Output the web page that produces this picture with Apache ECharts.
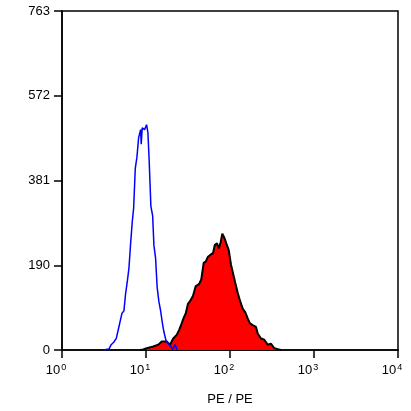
<!DOCTYPE html>
<html>
<head>
<meta charset="utf-8">
<script src="https://cdn.jsdelivr.net/npm/echarts@6/dist/echarts.min.js"></script>
<style>
  html, body { margin: 0; padding: 0; background: #fff; }
  #chart { width: 411px; height: 411px; }
</style>
</head>
<body>
<div id="chart"></div>
<script>
// PE intensity (log scale) and event counts
var blueX = [3.08, 3.62, 3.85, 4.15, 4.43, 4.72, 5.16, 5.46, 5.71, 5.97, 6.27, 6.56, 6.85, 7.13, 7.45, 7.80,
  8.17, 8.63, 8.77, 9.02, 9.12, 9.62, 10.16, 10.54, 10.91, 11.43, 12.0, 12.42, 13.0, 13.58, 14.22,
  14.93, 15.6, 16.33, 17.26, 18.37, 19.77, 20.75, 22.13, 23.55];
var blueY = [0, 2, 12, 18, 26, 49, 82, 88, 126, 152, 185, 240, 287, 320, 408, 434,
  478, 496, 463, 500, 504, 496, 507, 489, 426, 324, 302, 236, 207, 141, 110,
  88, 63, 41, 22, 15, 8, 1, 12, 0];

var redX = [8.49, 9.29, 10.2, 12.2, 14.0, 15.4, 17.6, 19.3, 21.1, 23.2, 24.9, 26.6, 28.3, 29.7, 31.6,
  33.7, 36.3, 39.1, 42.8, 45.5, 48.6, 51.4, 54.7, 58.2, 62.8, 65.8, 70.0, 73.9, 77.5, 81.0,
  86.4, 90.3, 96.6, 102.8, 109.5, 115.6, 123.5, 131.5, 141.6, 152.1, 162.4, 173.0, 186.3,
  204, 213.6, 234, 256, 281, 308, 337, 370, 405];
var redY = [0, 1, 4, 8, 12, 19, 19, 12, 26, 34, 46, 60, 74, 82, 104,
  111, 122, 144, 148, 159, 196, 199, 210, 214, 218, 236, 240, 229, 243, 262,
  251, 240, 225, 192, 170, 151, 129, 111, 93, 85, 71, 60, 56,
  52, 37, 26, 23, 12, 14, 4, 2, 0];

var yMax = 763;
var yStep = 190.75; // ticks 0,190,381,572,763

function pairs(xs, ys) {
  var out = [];
  for (var i = 0; i < xs.length; i++) out.push([xs[i], ys[i]]);
  return out;
}

var chart = echarts.init(document.getElementById('chart'));
var font = 'Liberation Sans, Arial, sans-serif';

chart.setOption({
  backgroundColor: '#ffffff',
  animation: false,
  grid: {
    left: 62,
    right: 13,
    top: 11,
    bottom: 54,
    show: true,
    borderColor: '#000',
    borderWidth: 1.5
  },
  xAxis: {
    type: 'log',
    logBase: 10,
    min: 1,
    max: 10000,
    name: 'PE / PE',
    nameLocation: 'middle',
    nameGap: 43,
    nameTextStyle: { color: '#000', fontSize: 13, fontFamily: font },
    axisLine: { show: true, lineStyle: { color: '#000', width: 1.5 } },
    axisTick: { show: true, inside: false, length: 8, lineStyle: { color: '#000', width: 1.5 } },
    minorTick: { show: false },
    splitLine: { show: false },
    axisLabel: {
      margin: 13,
      color: '#000',
      fontSize: 13,
      fontFamily: font,
      padding: [0, 12, 0, 0],
      formatter: function (v) {
        return '10{s|' + Math.round(Math.log10(v)) + '}';
      },
      rich: {
        s: { fontSize: 9, fontFamily: font, color: '#000', verticalAlign: 'top', padding: [0, 0, 6, 1] }
      }
    }
  },
  yAxis: {
    type: 'value',
    min: 0,
    max: yMax,
    interval: yStep,
    axisLine: { show: true, lineStyle: { color: '#000', width: 1.5 } },
    axisTick: { show: true, inside: false, length: 8, lineStyle: { color: '#000', width: 1.5 } },
    splitLine: { show: false },
    axisLabel: {
      margin: 12,
      color: '#000',
      fontSize: 13,
      fontFamily: font,
      formatter: function (v) { return Math.floor(v); }
    }
  },
  series: [{
    type: 'line',
    data: pairs(redX, redY),
    showSymbol: false,
    lineStyle: { color: '#000', width: 2 },
    areaStyle: { color: '#ff0000', opacity: 1 },
    z: 2
  }, {
    type: 'line',
    data: pairs(blueX, blueY),
    showSymbol: false,
    lineStyle: { color: '#0000ff', width: 1.5 },
    z: 3
  }]
});
</script>
</body>
</html>
